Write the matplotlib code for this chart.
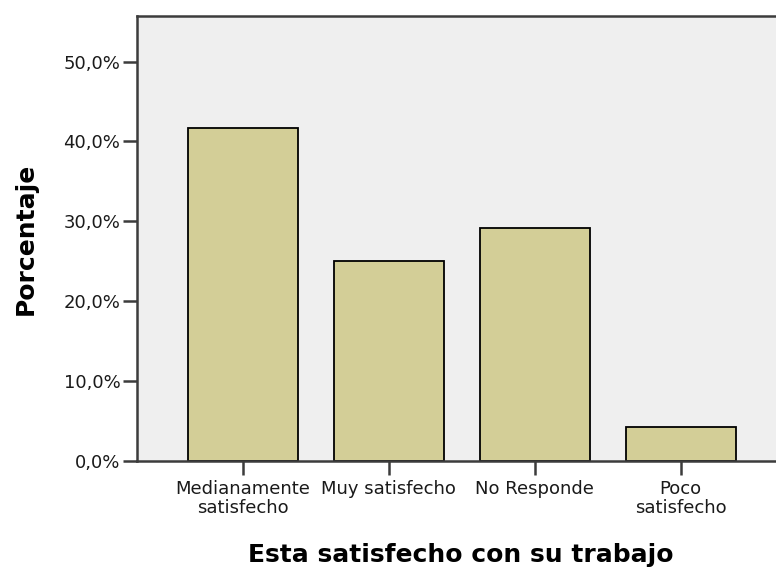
#!/usr/bin/env python
"""Bar chart: Esta satisfecho con su trabajo (percentages)"""
import matplotlib
matplotlib.use('Agg')
import matplotlib.pyplot as plt
from matplotlib.ticker import FuncFormatter

# data
categories = ['Medianamente\nsatisfecho', 'Muy satisfecho', 'No Responde', 'Poco\nsatisfecho']
percentages = [41.7, 25.0, 29.2, 4.2]
yticks = [0, 10, 20, 30, 40, 50]

bar_color = '#D3CE97'
bg_color = '#EFEFEF'
spine_color = '#3C3C3C'

fig = plt.figure(figsize=(7.76, 5.71), dpi=100)
ax = fig.add_axes([137 / 776, 110 / 571, (784 - 137) / 776, (461 - 16) / 571])
ax.set_facecolor(bg_color)

x = range(len(categories))
ax.bar(x, percentages, width=0.753, color=bar_color, edgecolor='black', linewidth=1.3)

ax.set_xlim(-0.724, 3.708)
ax.set_ylim(0, 55.7)
ax.set_xticks(list(x))
ax.set_xticklabels(categories, fontsize=13, linespacing=1.05, color='#1a1a1a')
ax.set_yticks(yticks)
ax.yaxis.set_major_formatter(FuncFormatter(lambda v, p: ('%.1f%%' % v).replace('.', ',')))
ax.tick_params(axis='y', labelsize=13, length=10, width=1.8, pad=2, color=spine_color,
               labelcolor='#1a1a1a')
ax.tick_params(axis='x', length=10, width=1.8, pad=4, color=spine_color)

for side in ['left', 'top', 'bottom']:
    ax.spines[side].set_color(spine_color)
    ax.spines[side].set_linewidth(1.8)
ax.spines['right'].set_visible(False)

ax.set_xlabel('Esta satisfecho con su trabajo', fontsize=18, fontweight='bold')
ax.set_ylabel('Porcentaje', fontsize=18, fontweight='bold')
ax.xaxis.set_label_coords(0.5, -0.185)
ax.yaxis.set_label_coords(-0.153, 0.5)

fig.savefig('out.png', dpi=100)
